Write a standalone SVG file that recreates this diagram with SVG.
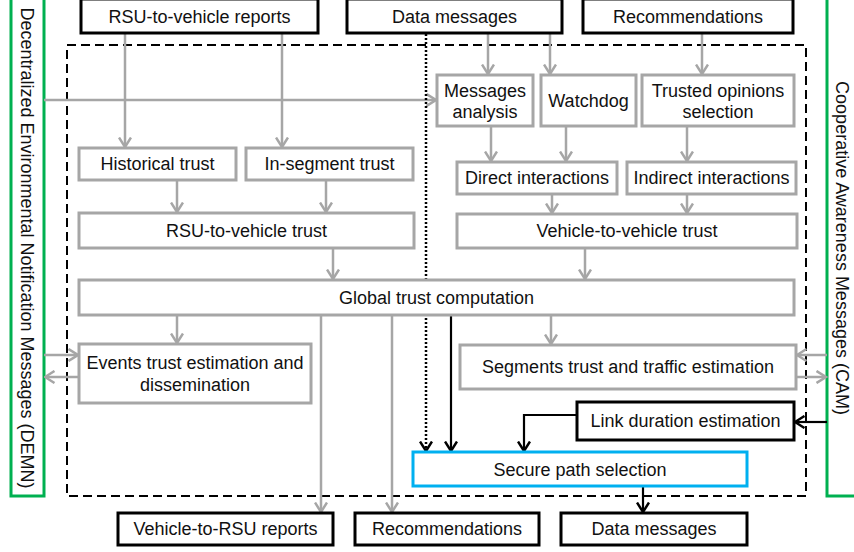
<svg xmlns="http://www.w3.org/2000/svg" width="854" height="552" viewBox="0 0 854 552">
<style>
text{font-family:"Liberation Sans",Arial,sans-serif;font-size:18px;fill:#111;text-anchor:middle}
.vt{font-size:18px}
.g{fill:#fff;stroke:#a6a6a6;stroke-width:3}
.b{fill:#fff;stroke:#000;stroke-width:3}
.bl{fill:#fff;stroke:#00b0f0;stroke-width:3}
.gr{fill:none;stroke:#00b050;stroke-width:3}
.cg{fill:none;stroke:#a6a6a6;stroke-width:2.5;marker-end:url(#ag)}
.cb{fill:none;stroke:#000;stroke-width:2.2;marker-end:url(#ab)}
</style>
<defs>
<marker id="ag" viewBox="0 0 12 14" refX="10.5" refY="7" markerWidth="12" markerHeight="14" markerUnits="userSpaceOnUse" orient="auto"><path d="M1,1 L10.5,7 L1,13" fill="none" stroke="#a6a6a6" stroke-width="2.5"/></marker>
<marker id="ab" viewBox="0 0 12 14" refX="10.5" refY="7" markerWidth="12" markerHeight="14" markerUnits="userSpaceOnUse" orient="auto"><path d="M1,1 L10.5,7 L1,13" fill="none" stroke="#000" stroke-width="2.5"/></marker>
</defs>
<rect width="854" height="552" fill="#fff"/>
<rect x="67" y="45" width="739" height="451" fill="none" stroke="#000" stroke-width="2" stroke-dasharray="9,5"/>
<g id="demn"><rect class="gr" x="11" y="-5" width="33" height="501"/><text class="vt" transform="translate(27,248) rotate(90)" y="6.5">Decentralized Environmental Notification Messages (DEMN)</text></g>
<g id="cam"><rect class="gr" x="827" y="-5" width="40" height="501"/><text class="vt" transform="translate(842,248) rotate(90)" y="6.5">Cooperative Awareness Messages (CAM)</text></g>
<g id="connectors">
<line class="cg" x1="44" y1="100" x2="436" y2="100"/>
<line class="cg" x1="125" y1="33" x2="125" y2="147"/>
<line class="cg" x1="282" y1="33" x2="282" y2="147"/>
<line class="cg" x1="177" y1="180" x2="177" y2="212"/>
<line class="cg" x1="326" y1="180" x2="326" y2="212"/>
<line class="cg" x1="333" y1="248" x2="333" y2="279"/>
<line class="cg" x1="488" y1="33" x2="488" y2="74"/>
<line class="cg" x1="550" y1="33" x2="550" y2="74"/>
<line class="cg" x1="702" y1="33" x2="702" y2="74"/>
<line class="cg" x1="491" y1="126" x2="491" y2="161"/>
<line class="cg" x1="566" y1="126" x2="566" y2="161"/>
<line class="cg" x1="687" y1="126" x2="687" y2="161"/>
<line class="cg" x1="552" y1="194" x2="552" y2="213"/>
<line class="cg" x1="687" y1="194" x2="687" y2="213"/>
<line class="cg" x1="585" y1="248" x2="585" y2="279"/>
<line class="cg" x1="177" y1="315" x2="177" y2="343"/>
<line class="cg" x1="551" y1="315" x2="551" y2="344"/>
<line class="cg" x1="44" y1="355" x2="78" y2="355"/>
<line class="cg" x1="79" y1="377" x2="45" y2="377"/>
<line class="cg" x1="827" y1="355" x2="797" y2="355"/>
<line class="cg" x1="796" y1="377" x2="826" y2="377"/>
<line class="cg" x1="321" y1="315" x2="321" y2="512"/>
<line class="cg" x1="392" y1="315" x2="392" y2="512"/>
<line x1="426" y1="34" x2="426" y2="451" fill="none" stroke="#000" stroke-width="2.5" stroke-dasharray="2,2" marker-end="url(#ab)"/>
<line class="cb" x1="451" y1="315" x2="451" y2="451"/>
<line class="cb" x1="827" y1="422" x2="795" y2="422"/>
<path class="cb" d="M577,415 H524 V451"/>
<line class="cb" x1="643" y1="486" x2="643" y2="512"/>
</g>
<g id="rsu-reports"><rect class="b" x="81" y="-1" width="237" height="34"/><text x="199.5" y="23">RSU-to-vehicle reports</text></g>
<g id="data-in"><rect class="b" x="347" y="-1" width="215" height="34"/><text x="454.5" y="23">Data messages</text></g>
<g id="reco-in"><rect class="b" x="583" y="-1" width="210" height="34"/><text x="688" y="23">Recommendations</text></g>
<g id="historical"><rect class="g" x="79" y="148" width="157" height="32"/><text x="157.5" y="170">Historical trust</text></g>
<g id="insegment"><rect class="g" x="246" y="148" width="167" height="32"/><text x="329.5" y="170">In-segment trust</text></g>
<g id="rsu-trust"><rect class="g" x="79" y="213" width="335" height="35"/><text x="246.5" y="237">RSU-to-vehicle trust</text></g>
<g id="msg-analysis"><rect class="g" x="437" y="75" width="96" height="51"/><text x="485" y="97">Messages</text><text x="485" y="118">analysis</text></g>
<g id="watchdog"><rect class="g" x="541" y="75" width="95" height="51"/><text x="588.5" y="107">Watchdog</text></g>
<g id="trusted"><rect class="g" x="642" y="75" width="152" height="51"/><text x="718" y="97">Trusted opinions</text><text x="718" y="118">selection</text></g>
<g id="direct"><rect class="g" x="457" y="162" width="160" height="32"/><text x="537" y="184">Direct interactions</text></g>
<g id="indirect"><rect class="g" x="627" y="162" width="169" height="32"/><text x="711.5" y="184">Indirect interactions</text></g>
<g id="v2v"><rect class="g" x="457" y="214" width="340" height="34"/><text x="627" y="237">Vehicle-to-vehicle trust</text></g>
<g id="global"><rect class="g" x="79" y="280" width="715" height="35"/><text x="436.5" y="304">Global trust computation</text></g>
<g id="events"><rect class="g" x="79" y="344" width="232" height="59"/><text x="195" y="369">Events trust estimation and</text><text x="195" y="391">dissemination</text></g>
<g id="segments"><rect class="g" x="460" y="345" width="336" height="44"/><text x="628" y="373">Segments trust and traffic estimation</text></g>
<g id="link"><rect class="b" x="577" y="402" width="217" height="38"/><text x="685.5" y="427">Link duration estimation</text></g>
<g id="secure"><rect class="bl" x="413" y="452" width="334" height="34"/><text x="580" y="476">Secure path selection</text></g>
<g id="v2rsu"><rect class="b" x="118" y="513" width="215" height="32"/><text x="225.5" y="535">Vehicle-to-RSU reports</text></g>
<g id="reco-out"><rect class="b" x="355" y="513" width="184" height="32"/><text x="447" y="535">Recommendations</text></g>
<g id="data-out"><rect class="b" x="561" y="513" width="186" height="32"/><text x="654" y="535">Data messages</text></g>
</svg>
